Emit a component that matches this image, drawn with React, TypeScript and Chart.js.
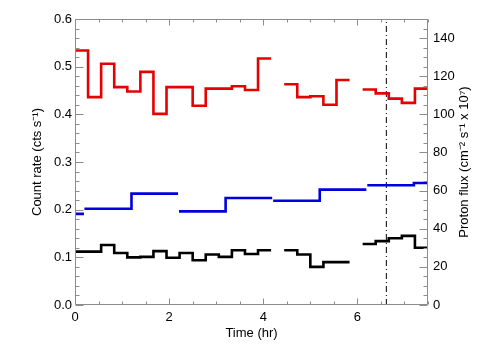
import React, { useEffect, useRef } from 'react';
import { Chart, registerables } from 'chart.js';

Chart.register(...registerables);

// ---- data ----
// 1000 s bins (in hours)
const BIN_HR = 1000 / 3600;
// count rate (cts/s), one value per 1000 s bin, null = no data
const redRate: (number | null)[] = [
  0.534, 0.436, 0.506, 0.457, 0.448, 0.489, 0.401, 0.457, 0.457, 0.418,
  0.454, 0.454, 0.459, 0.451, 0.517, null, 0.463, 0.436, 0.438, 0.420,
  0.472, null, 0.452, 0.444, 0.433, 0.424, 0.454,
];
const blackRate: (number | null)[] = [
  0.112, 0.112, 0.126, 0.109, 0.100, 0.101, 0.113, 0.099, 0.109, 0.094,
  0.106, 0.101, 0.115, 0.107, 0.115, null, 0.115, 0.106, 0.080, 0.090,
  0.090, null, 0.128, 0.134, 0.140, 0.145, 0.120,
];
// proton flux (cm^-2 s^-1 x 10^7)
const blueStart = [0, 0.2, 1.2, 2.21, 3.2, 4.21, 5.2, 6.21, 7.2];
const blueEnd = [0.19, 1.2, 2.19, 3.2, 4.19, 5.2, 6.19, 7.2, 7.5];
const blueFlux = [47.8, 50.5, 58.4, 49.1, 56.1, 54.7, 60.5, 62.8, 64.0];
// vertical marker time (hr)
const markerTime = 6.615;

const xTicks = [0, 2, 4, 6];
const FONT = '"Liberation Sans", Arial, Helvetica, sans-serif';
const AXIS_COLOR = '#8c8c8c';

type Pt = { x: number; y: number | null };

function binnedPoints(vals: (number | null)[]): Pt[] {
  const pts: Pt[] = [];
  vals.forEach((v, i) => {
    if (v === null) return;
    pts.push({ x: i * BIN_HR, y: v });
    const next = vals[i + 1];
    if (next === null || next === undefined) {
      pts.push({ x: (i + 1) * BIN_HR, y: v });
      pts.push({ x: (i + 1.5) * BIN_HR, y: null });
    }
  });
  return pts;
}

function segPoints(starts: number[], ends: number[], vals: number[]): Pt[] {
  const pts: Pt[] = [];
  vals.forEach((v, i) => {
    pts.push({ x: starts[i], y: v });
    const ns = starts[i + 1];
    if (ns === undefined || ns > ends[i] + 1e-6) {
      pts.push({ x: ends[i], y: v });
      pts.push({ x: ends[i] + 0.005, y: null });
    }
  });
  return pts;
}

const framePlugin = {
  id: 'frame',
  afterDraw(chart: any) {
    const { ctx, chartArea: a, scales } = chart;
    const x = scales.x, y = scales.y, y1 = scales.y1;
    ctx.save();
    ctx.strokeStyle = AXIS_COLOR;
    ctx.lineWidth = 1;
    const L = Math.round(a.left) + 0.5, R = Math.round(a.right) - 0.5;
    const T = Math.round(a.top) + 0.5, B = Math.round(a.bottom) - 0.5;
    ctx.beginPath();
    ctx.rect(L, T, R - L, B - T);
    for (let i = 0; i <= 15; i++) {
      const px = Math.round(x.getPixelForValue(i * 0.5)) + 0.5;
      const len = i % 4 === 0 ? 6 : 3;
      ctx.moveTo(px, B); ctx.lineTo(px, B - len);
      ctx.moveTo(px, T); ctx.lineTo(px, T + len);
    }
    for (let i = 0; i <= 30; i++) {
      const py = Math.round(y.getPixelForValue(i * 0.02)) + 0.5;
      const len = i % 5 === 0 ? 8 : 4;
      ctx.moveTo(L, py); ctx.lineTo(L + len, py);
    }
    for (let i = 0; i <= 30; i++) {
      const py = Math.round(y1.getPixelForValue(i * 5)) + 0.5;
      const len = i % 4 === 0 ? 8 : 4;
      ctx.moveTo(R, py); ctx.lineTo(R - len, py);
    }
    ctx.stroke();

    ctx.fillStyle = '#000';
    ctx.font = '13px ' + FONT;
    ctx.textAlign = 'center';
    ctx.textBaseline = 'middle';
    const midY = (a.top + a.bottom) / 2;
    ctx.save();
    ctx.translate(37, midY);
    ctx.rotate(-Math.PI / 2);
    ctx.fillText('Count rate (cts s\u207B\u00B9)', 0, 0);
    ctx.restore();
    ctx.save();
    ctx.translate(464, midY);
    ctx.rotate(-Math.PI / 2);
    ctx.fillText('Proton flux (cm\u207B\u00B2 s\u207B\u00B9 x 10\u2077)', 0, 0);
    ctx.restore();
    ctx.fillText('Time (hr)', (a.left + a.right) / 2, 333);
    ctx.restore();
  },
};

export default function App() {
  const ref = useRef<HTMLCanvasElement | null>(null);
  useEffect(() => {
    document.body.style.margin = '0';
    const canvas = ref.current;
    if (!canvas) return;
    Chart.defaults.font.family = FONT;
    Chart.defaults.font.size = 13;
    Chart.defaults.color = '#000';
    const common = {
      pointRadius: 0,
      stepped: 'before' as const,
      spanGaps: false,
      borderWidth: 2.6,
      fill: false,
    };
    const chart = new Chart(canvas, {
      type: 'line',
      data: {
        datasets: [
          { ...common, label: 'red', data: binnedPoints(redRate) as any, borderColor: '#e60000', yAxisID: 'y' },
          { ...common, label: 'black', data: binnedPoints(blackRate) as any, borderColor: '#000000', yAxisID: 'y' },
          { ...common, label: 'proton', data: segPoints(blueStart, blueEnd, blueFlux) as any, borderColor: '#0000dc', yAxisID: 'y1' },
          {
            label: 'marker',
            data: [{ x: markerTime, y: 0 }, { x: markerTime, y: 0.6 }] as any,
            borderColor: '#000',
            borderWidth: 1,
            borderDash: [6, 3, 1, 3],
            pointRadius: 0,
            yAxisID: 'y',
          },
        ],
      },
      options: {
        animation: false,
        responsive: false,
        maintainAspectRatio: false,
        layout: { padding: { top: 19, left: 0, right: 0, bottom: 0 } },
        plugins: { legend: { display: false }, tooltip: { enabled: false } },
        scales: {
          x: {
            type: 'linear',
            min: 0,
            max: 7.5,
            grid: { display: false, drawTicks: false },
            border: { display: false },
            ticks: {
              stepSize: 2,
              includeBounds: false,
              padding: 5,
              maxRotation: 0,
              callback: (v: any) => (xTicks.includes(Number(v)) ? String(v) : ''),
            },
            afterFit: (s: any) => { s.height = 55; },
          },
          y: {
            position: 'left',
            min: 0,
            max: 0.6,
            grid: { display: false, drawTicks: false },
            border: { display: false },
            ticks: { stepSize: 0.1, padding: 3, callback: (v: any) => Number(v).toFixed(1) },
            afterFit: (s: any) => { s.width = 75; },
          },
          y1: {
            position: 'right',
            min: 0,
            max: 150,
            grid: { display: false, drawTicks: false },
            border: { display: false },
            ticks: { stepSize: 20, includeBounds: false, padding: 5 },
            afterFit: (s: any) => { s.width = 76; },
          },
        },
      } as any,
      plugins: [framePlugin],
    });
    return () => chart.destroy();
  }, []);
  return (
    <div style={{ width: 504, height: 360, background: '#fff' }}>
      <canvas ref={ref} width={504} height={360} style={{ display: 'block', width: 504, height: 360 }} />
    </div>
  );
}
